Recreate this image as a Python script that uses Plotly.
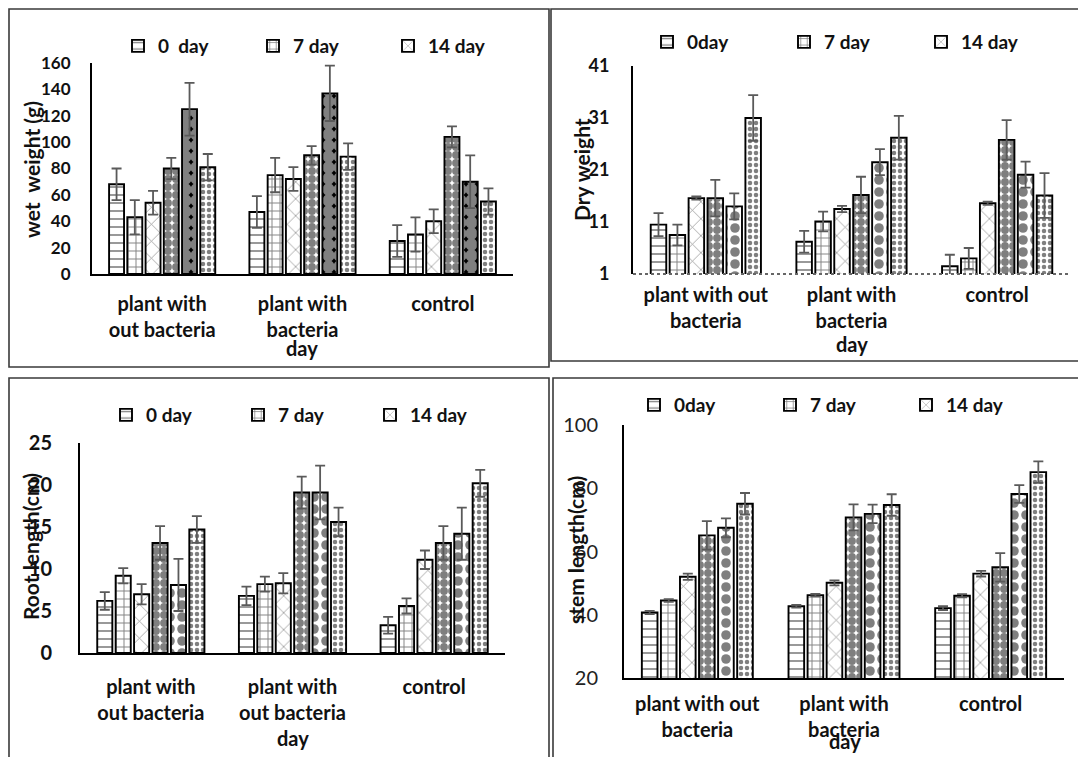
import plotly.graph_objects as go

# page body has an 8px margin: figure is drawn 8px in from the top-left of the window
OFF = 8
W, H = 1086 - OFF, 757 - OFF

# ---------------- data ----------------
series_a = ["0  day", "7 day", "14 day", "s4", "s5", "s6"]
series_b = ["0day", "7 day", "14 day", "s4", "s5", "s6"]
series_c = ["0 day", "7 day", "14 day", "s4", "s5", "s6"]
series_d = ["0day", "7 day", "14 day", "s4", "s5", "s6"]

cats_a = ["plant with<br>out bacteria", "plant with<br>bacteria", "control"]
cats_b = ["plant with out<br>bacteria", "plant with<br>bacteria", "control"]
cats_c = ["plant with<br>out bacteria", "plant with<br>out bacteria", "control"]
cats_d = ["plant with out<br>bacteria", "plant with<br>bacteria", "control"]

wet = [[68, 47, 25], [43, 75, 30], [54, 72, 40], [80, 90, 104], [125, 137, 70], [81, 89, 55]]
wet_err = [[12, 12, 12], [13, 13, 13], [9, 9, 9], [8, 7, 8], [20, 21, 20], [10, 10, 10]]

dry = [[10.5, 7.2, 2.5], [8.5, 11.1, 4.0], [15.6, 13.5, 14.6], [15.6, 16.2, 26.8], [14.0, 22.5, 20.1], [31.0, 27.2, 16.1]]
dry_err = [[2.2, 2.1, 2.2], [2.0, 1.9, 2.0], [0.3, 0.6, 0.3], [3.5, 3.5, 3.8], [2.5, 2.5, 2.5], [4.4, 4.2, 4.3]]

root = [[6.2, 6.8, 3.3], [9.2, 8.2, 5.6], [7.0, 8.3, 11.1], [13.1, 19.1, 13.1], [8.1, 19.1, 14.2], [14.7, 15.6, 20.2]]
root_err = [[1.05, 1.1, 1.0], [0.9, 0.9, 0.9], [1.2, 1.2, 1.1], [2.0, 1.9, 2.0], [3.1, 3.2, 3.1], [1.6, 1.7, 1.6]]

stem = [[40.7, 42.7, 42.1], [44.5, 46.2, 46.0], [52.0, 50.1, 53.0], [65.1, 70.8, 55.0], [67.5, 71.9, 78.2], [75.1, 74.7, 85.1]]
stem_err = [[0.5, 0.4, 0.6], [0.4, 0.4, 0.5], [1.0, 0.8, 0.9], [4.5, 4.1, 4.5], [3.0, 2.9, 2.8], [3.4, 3.4, 3.4]]

# ---------------- styles ----------------
FONT = "Lato"
P_DASH = dict(shape="-", fgcolor="black", bgcolor="white", size=8, solidity=0.2)
P_BRICK = dict(shape="+", fgcolor="black", bgcolor="white", size=8, solidity=0.22)
P_ZIG = dict(shape="x", fgcolor="#222", bgcolor="white", size=12, solidity=0.12)
P_CHECK = dict(shape=".", fgcolor="black", bgcolor="white", size=8, solidity=0.75)
P_CIRC = dict(shape=".", fgcolor="white", bgcolor="black", size=11, solidity=0.85)
P_DIAM = dict(shape=".", fgcolor="black", bgcolor="white", size=12, solidity=0.5)
P_DOTS = dict(shape=".", fgcolor="black", bgcolor="white", size=6, solidity=0.45)

pats_a = [P_DASH, P_BRICK, P_ZIG, P_CHECK, P_CIRC, P_DOTS]
pats_other = [P_DASH, P_BRICK, P_ZIG, P_CHECK, P_DIAM, P_DOTS]

def px(x):
    return (x - OFF) / W

def py(y):
    return 1 - (y - OFF) / H

fig = go.Figure()

panels = [
    (series_a, cats_a, wet, wet_err, pats_a, "", "legend", (92, 513), (63, 274)),
    (series_b, cats_b, dry, dry_err, pats_other, "2", "legend2", (633, 1070), (66, 274)),
    (series_c, cats_c, root, root_err, pats_other, "3", "legend3", (80, 505), (443, 653)),
    (series_d, cats_d, stem, stem_err, pats_other, "4", "legend4", (624, 1064), (425, 678)),
]

for names, cats, vals, errs, pats, sfx, leg, xd, yd in panels:
    for i in range(6):
        fig.add_trace(go.Bar(
            x=[0, 1, 2], y=vals[i], name=names[i],
            xaxis="x" + sfx, yaxis="y" + sfx,
            legend=leg, showlegend=(i < 3),
            offsetgroup=str(i),
            marker=dict(color="white", line=dict(color="black", width=1.9),
                        pattern=pats[i]),
            error_y=dict(type="data", array=errs[i], symmetric=True,
                         color="#5a5a5a", thickness=1.8, width=5),
        ))

axis_common = dict(showgrid=False, zeroline=False, ticks="", showline=True,
                   linecolor="black", linewidth=2)

layout = dict(
    width=W, height=H, margin=dict(l=0, r=0, t=0, b=0, autoexpand=False),
    paper_bgcolor="white", plot_bgcolor="white",
    barmode="group", bargap=0.22, bargroupgap=0.18,
    font=dict(family=FONT, color="#111"),
)

def bold(size, color="#111"):
    return dict(family=FONT, size=size, color=color, weight="bold")

y_specs = {
    "": dict(range=[0, 160], tickvals=[0, 20, 40, 60, 80, 100, 120, 140, 160], tickfont=bold(17), ticklabelstandoff=16),
    "2": dict(range=[1, 41], tickvals=[1, 11, 21, 31, 41], tickfont=bold(18), ticklabelstandoff=18),
    "3": dict(range=[0, 25], tickvals=[0, 5, 10, 15, 20, 25], tickfont=bold(20), ticklabelstandoff=22),
    "4": dict(range=[20, 100], tickvals=[20, 40, 60, 80, 100], tickfont=dict(family=FONT, size=20, color="#222"), ticklabelstandoff=20),
}
x_standoff = {"": 11, "2": 7, "3": 15, "4": 7}

for names, cats, vals, errs, pats, sfx, leg, xd, yd in panels:
    layout["xaxis" + sfx] = dict(axis_common, domain=[px(xd[0]), px(xd[1])],
                                 anchor="y" + sfx, range=[-0.5, 2.5],
                                 tickvals=[0, 1, 2], ticktext=cats, tickfont=bold(20),
                                 ticklabelstandoff=x_standoff[sfx])
    layout["yaxis" + sfx] = dict(axis_common, domain=[py(yd[1]), py(yd[0])],
                                 anchor="x" + sfx, **y_specs[sfx])

# dry-weight panel: dotted grey baseline drawn as a shape instead of the axis line
layout["xaxis2"]["showline"] = False

leg_pos = {
    "legend": (137, 46, 90),
    "legend2": (666, 42, 92),
    "legend3": (125, 415, 87),
    "legend4": (653, 405, 91),
}
for key, (sx, ly, ew) in leg_pos.items():
    layout[key] = dict(orientation="h", x=px(sx - 19), y=py(ly), xanchor="left", yanchor="middle",
                       font=bold(19), entrywidth=ew, entrywidthmode="pixels",
                       bgcolor="rgba(0,0,0,0)", itemwidth=30, tracegroupgap=0)

fig.update_layout(**layout)

fig.add_shape(type="line", xref="x2 domain", yref="y2 domain", x0=0, x1=1, y0=0, y1=0,
              line=dict(color="#666", width=2, dash="dot"))

frames = [(9, 9, 549, 367), (551, 9, 1095, 361), (9, 378, 549, 770), (553, 378, 1095, 770)]
for x0, y0, x1, y1 in frames:
    fig.add_shape(type="rect", xref="paper", yref="paper",
                  x0=px(x0), x1=px(x1), y0=py(y1), y1=py(y0),
                  line=dict(color="#3a3a3a", width=1.6), fillcolor="rgba(0,0,0,0)", layer="below")

ytitles = [("wet  weight (g)", 31, 170), ("Dry weight", 581, 170),
           ("Root length(cm)", 30, 547), ("stem length(cm)", 575, 550)]
for txt, x, y in ytitles:
    fig.add_annotation(text=txt, x=px(x), y=py(y), xref="paper", yref="paper",
                       textangle=-90, showarrow=False, font=bold(21),
                       xanchor="center", yanchor="middle")

day_pos = [(302, 348), (852, 344), (293, 738), (845, 741)]
for x, y in day_pos:
    fig.add_annotation(text="day", x=px(x), y=py(y), xref="paper", yref="paper",
                       showarrow=False, font=bold(20),
                       xanchor="center", yanchor="middle")

fig.write_html("out.html")
